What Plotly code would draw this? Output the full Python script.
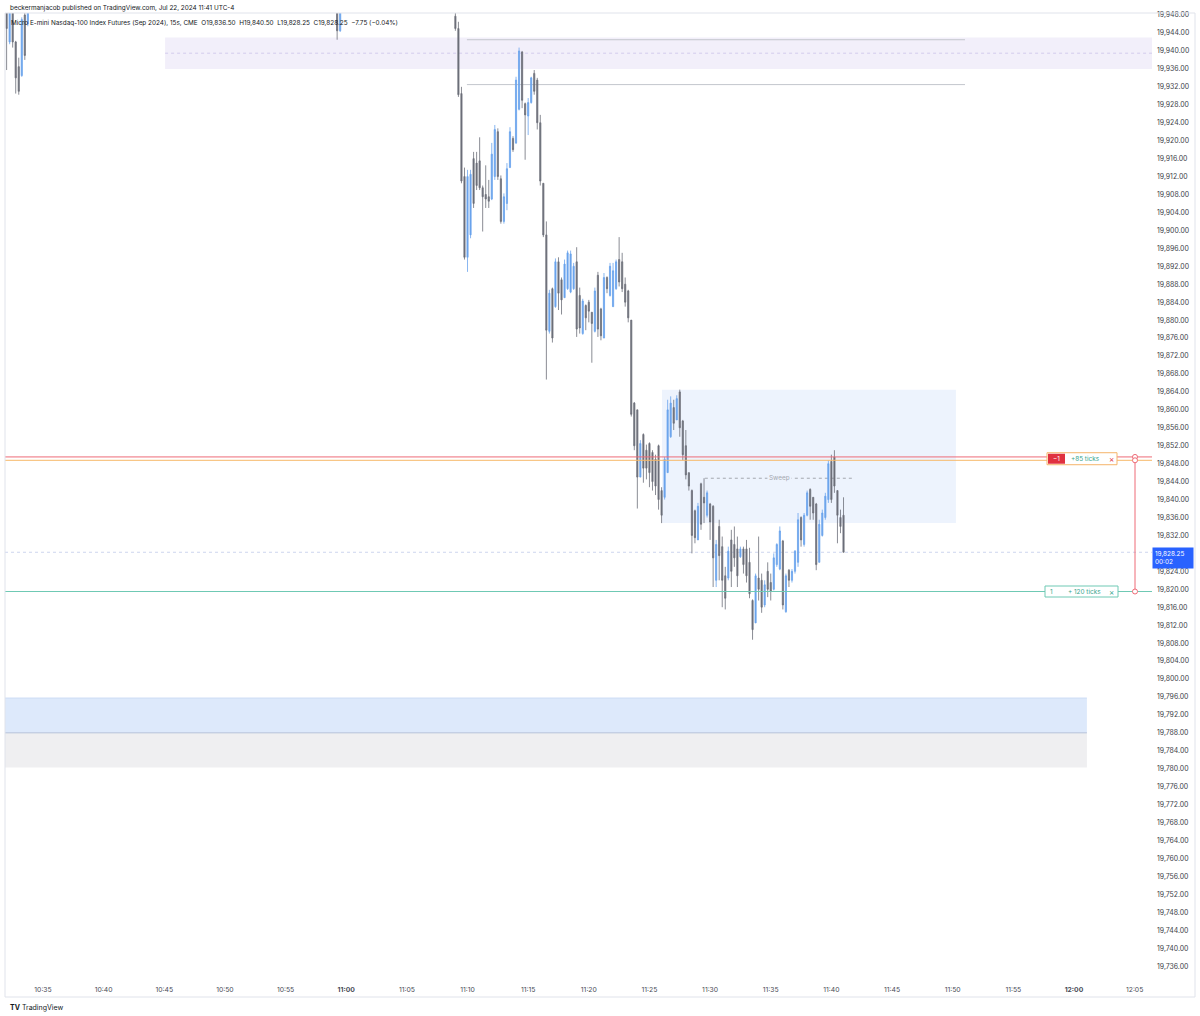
import plotly.graph_objects as go
import pandas as pd

# ---------------- data ----------------
early_times = [
    "2024-07-22 10:32:00", "2024-07-22 10:32:15", "2024-07-22 10:32:30", "2024-07-22 10:32:45",
    "2024-07-22 10:33:00", "2024-07-22 10:33:15", "2024-07-22 10:33:30", "2024-07-22 10:33:45",
    "2024-07-22 10:59:15", "2024-07-22 10:59:30",
]
main_start = "2024-07-22 11:09:00"
main_count = 129

opens = [
    19950.0, 19942.0, 19950.0, 19942.0, 19936.5, 19934.5, 19948.0, 19946.0, 19950.0, 19944.5,
    19947.75, 19945.0, 19930.5, 19912.0, 19894.0, 19899.0, 19916.0, 19915.0, 19915.5, 19909.5,
    19908.0, 19907.5, 19907.0, 19912.0, 19922.0, 19911.5, 19902.0, 19906.0, 19914.0, 19920.5,
    19919.5, 19927.0, 19939.75, 19928.25, 19925.5, 19928.5, 19935.0, 19933.5, 19924.0, 19910.5,
    19899.0, 19877.5, 19887.0, 19883.0, 19893.0, 19889.0, 19885.0, 19887.0, 19886.25, 19887.0,
    19893.0, 19885.5, 19877.0, 19883.25, 19884.0, 19881.75, 19877.5, 19890.0, 19882.5, 19876.0,
    19889.5, 19885.5, 19883.0, 19887.0, 19893.5, 19893.0, 19888.0, 19886.5, 19880.0, 19861.5,
    19860.0, 19845.0, 19854.5, 19851.0, 19852.5, 19850.5, 19849.0, 19852.0, 19842.0, 19840.5,
    19846.0, 19854.0, 19860.5, 19857.75, 19864.0, 19857.5, 19852.0, 19846.0, 19842.0, 19837.5,
    19831.0, 19843.5, 19840.5, 19836.5, 19839.0, 19838.5, 19822.0, 19834.0, 19829.5, 19823.0,
    19822.5, 19831.0, 19830.0, 19829.0, 19827.25, 19829.0, 19829.0, 19826.0, 19817.5, 19812.5,
    19822.5, 19822.0, 19816.5, 19824.0, 19821.5, 19820.0, 19825.5, 19824.5, 19830.75, 19815.0,
    19824.25, 19822.0, 19824.0, 19826.0, 19836.0, 19830.0, 19836.5, 19842.25, 19840.5, 19839.0,
    19826.0, 19832.0, 19836.0, 19840.0, 19848.5, 19849.5, 19842.0, 19836.0, 19836.5,
]
highs = [
    19951.0, 19950.0, 19951.0, 19942.25, 19938.5, 19947.5, 19949.0, 19950.0, 19951.0, 19951.0,
    19948.5, 19946.5, 19932.0, 19914.0, 19913.5, 19913.5, 19917.5, 19917.5, 19920.75, 19910.0,
    19914.5, 19911.25, 19919.5, 19923.5, 19922.75, 19912.25, 19908.25, 19915.0, 19923.0, 19921.0,
    19934.25, 19940.75, 19940.0, 19928.5, 19929.5, 19934.25, 19935.75, 19934.0, 19925.75, 19910.5,
    19902.0, 19886.75, 19887.25, 19893.75, 19894.0, 19889.5, 19893.5, 19895.5, 19895.5, 19892.75,
    19896.25, 19887.25, 19884.75, 19883.5, 19884.5, 19881.75, 19887.25, 19890.75, 19882.75, 19890.5,
    19889.75, 19892.75, 19892.75, 19893.5, 19898.5, 19895.0, 19889.5, 19886.75, 19880.0, 19861.75,
    19860.0, 19853.25, 19854.75, 19852.25, 19852.75, 19851.0, 19850.0, 19852.25, 19842.75, 19849.5,
    19862.25, 19863.0, 19862.25, 19863.25, 19864.5, 19857.75, 19855.5, 19846.0, 19842.25, 19837.75,
    19839.25, 19843.75, 19844.75, 19842.0, 19839.25, 19838.75, 19831.0, 19835.5, 19831.75, 19825.0,
    19829.5, 19833.25, 19834.0, 19831.75, 19829.5, 19829.5, 19831.0, 19829.25, 19817.75, 19823.5,
    19831.75, 19823.5, 19822.0, 19826.0, 19823.5, 19828.0, 19830.25, 19834.0, 19831.0, 19823.5,
    19824.5, 19824.5, 19828.75, 19837.0, 19836.25, 19837.0, 19842.0, 19842.5, 19840.5, 19839.25,
    19835.5, 19837.75, 19841.5, 19848.75, 19850.0, 19851.0, 19842.0, 19837.75, 19840.5,
]
lows = [
    19935.75, 19941.5, 19940.75, 19930.5, 19930.25, 19934.25, 19938.0, 19945.5, 19942.5, 19944.25,
    19944.5, 19929.75, 19910.5, 19893.5, 19890.75, 19898.25, 19905.0, 19909.0, 19909.0, 19899.75,
    19905.0, 19905.0, 19906.75, 19911.25, 19911.25, 19901.5, 19901.5, 19904.5, 19914.0, 19917.5,
    19919.25, 19926.75, 19927.25, 19915.75, 19921.25, 19928.25, 19930.25, 19922.5, 19910.0, 19898.5,
    19866.75, 19877.0, 19875.0, 19882.75, 19882.25, 19881.25, 19885.0, 19886.75, 19886.0, 19886.75,
    19876.25, 19877.0, 19876.75, 19877.75, 19879.5, 19870.5, 19877.25, 19876.25, 19875.5, 19876.0,
    19886.0, 19885.25, 19883.0, 19886.75, 19887.5, 19886.25, 19883.0, 19879.5, 19858.5, 19851.0,
    19838.0, 19845.0, 19843.75, 19844.5, 19842.75, 19842.0, 19841.0, 19837.75, 19834.75, 19840.0,
    19846.0, 19853.75, 19855.5, 19857.75, 19854.0, 19848.75, 19844.5, 19842.0, 19828.0, 19830.25,
    19831.0, 19833.25, 19834.75, 19836.0, 19831.0, 19820.5, 19820.5, 19822.0, 19816.0, 19815.5,
    19822.0, 19820.5, 19825.0, 19820.5, 19827.0, 19823.5, 19821.5, 19818.0, 19808.75, 19812.5,
    19817.5, 19814.75, 19816.0, 19818.25, 19817.5, 19819.75, 19825.0, 19824.25, 19815.5, 19814.75,
    19820.5, 19821.5, 19823.5, 19825.0, 19829.5, 19829.5, 19836.25, 19835.5, 19835.5, 19824.25,
    19826.0, 19831.75, 19835.5, 19839.25, 19839.25, 19841.5, 19830.25, 19832.5, 19828.25,
]
closes = [
    19945.0, 19949.0, 19942.0, 19934.0, 19931.0, 19947.0, 19939.0, 19949.0, 19944.5, 19950.0,
    19945.0, 19930.25, 19911.0, 19894.0, 19912.0, 19912.5, 19906.0, 19910.0, 19909.5, 19907.5,
    19907.0, 19906.5, 19917.0, 19922.5, 19912.0, 19902.0, 19907.5, 19913.75, 19922.0, 19918.0,
    19933.5, 19940.0, 19929.0, 19925.75, 19928.5, 19934.0, 19931.0, 19924.0, 19911.0, 19899.0,
    19877.75, 19886.0, 19876.0, 19893.0, 19886.0, 19884.5, 19892.5, 19895.0, 19894.75, 19892.0,
    19878.0, 19878.25, 19884.25, 19880.5, 19882.0, 19879.25, 19886.5, 19878.0, 19876.5, 19889.5,
    19887.0, 19892.0, 19891.0, 19893.0, 19888.5, 19887.0, 19884.0, 19880.5, 19859.0, 19852.0,
    19845.0, 19852.5, 19847.0, 19847.0, 19846.0, 19844.0, 19843.0, 19840.0, 19836.5, 19849.0,
    19860.0, 19861.5, 19857.0, 19862.5, 19856.0, 19850.0, 19845.5, 19843.0, 19832.0, 19831.5,
    19838.5, 19834.5, 19839.25, 19841.5, 19835.0, 19827.0, 19830.0, 19827.5, 19822.0, 19818.0,
    19828.5, 19824.0, 19827.0, 19823.0, 19829.0, 19825.5, 19823.0, 19819.0, 19811.0, 19823.0,
    19820.0, 19816.0, 19821.0, 19820.0, 19819.5, 19827.0, 19830.0, 19833.0, 19816.5, 19823.0,
    19822.0, 19824.0, 19828.5, 19835.5, 19831.0, 19836.5, 19841.5, 19838.5, 19837.0, 19825.5,
    19834.5, 19837.0, 19840.75, 19848.0, 19840.0, 19843.0, 19836.5, 19834.0, 19828.25,
]

x_tick_times = ["10:35", "10:40", "10:45", "10:50", "10:55", "11:00", "11:05", "11:10", "11:15", "11:20",
                "11:25", "11:30", "11:35", "11:40", "11:45", "11:50", "11:55", "12:00", "12:05"]
bold_ticks = ["11:00", "12:00"]
price_tick_first, price_tick_last, price_tick_step = 19736, 19948, 4

entry_price = 19849.5
alert_price = 19848.75
target_price = 19819.5
last_price = 19828.25
last_label = "19,828.25"
countdown = "00:02"
supply_top, supply_mid, supply_bot = 19943.0, 19939.5, 19936.0
supply_line_hi, supply_line_lo = 19942.5, 19932.5
range_top, range_bot = 19864.5, 19834.75
sweep_price = 19844.75
demand_blue_top, demand_mid, demand_gray_bot = 19795.75, 19788.0, 19780.25

# ---------------- build ----------------
day = "2024-07-22 "
times = early_times + list(pd.date_range(main_start, periods=main_count, freq="15s").strftime("%Y-%m-%d %H:%M:%S"))

UP = "#6aa3ec"
DN = "#6c6f79"
FONT = "Inter, Roboto, sans-serif"
FS = 6.4

fig = go.Figure()
fig.add_trace(go.Candlestick(
    x=times, open=opens, high=highs, low=lows, close=closes,
    increasing=dict(line=dict(color=UP, width=0.8), fillcolor=UP),
    decreasing=dict(line=dict(color=DN, width=0.8), fillcolor=DN),
    whiskerwidth=0, showlegend=False, hoverinfo="skip",
))

x_start = day + "10:31:52"
x_end = day + "12:06:26"


def px(xp):
    return (xp - 5) / 1147


shapes = []
# supply zone (top, lavender)
shapes.append(dict(type="rect", xref="x", yref="y", x0=day + "10:45:04", x1=x_end,
                   y0=supply_bot, y1=supply_top, fillcolor="#f2effa", line=dict(width=0), layer="below"))
shapes.append(dict(type="line", xref="x", yref="y", x0=day + "10:45:04", x1=x_end,
                   y0=supply_mid, y1=supply_mid, line=dict(color="#d3cbec", width=1, dash="dot"), layer="below"))
for yv in (supply_line_hi, supply_line_lo):
    shapes.append(dict(type="line", xref="x", yref="y", x0=day + "11:09:57", x1=day + "11:51:01",
                       y0=yv, y1=yv, line=dict(color="#c3c6cd", width=1), layer="below"))
# range box (middle, light blue)
shapes.append(dict(type="rect", xref="x", yref="y", x0=day + "11:26:02", x1=day + "11:50:16",
                   y0=range_bot, y1=range_top, fillcolor="#edf3fd", line=dict(width=0), layer="below"))
shapes.append(dict(type="line", xref="x", yref="y", x0=day + "11:29:34", x1=day + "11:41:56",
                   y0=sweep_price, y1=sweep_price, line=dict(color="#a5a8b0", width=1, dash="dot"), layer="below"))
# bottom zones
shapes.append(dict(type="rect", xref="x", yref="y", x0=day + "10:30:00", x1=day + "12:01:04",
                   y0=demand_mid, y1=demand_blue_top, fillcolor="#dde9fb",
                   line=dict(width=0), layer="below"))
shapes.append(dict(type="rect", xref="x", yref="y", x0=day + "10:30:00", x1=day + "12:01:04",
                   y0=demand_gray_bot, y1=demand_mid, fillcolor="#efeff1",
                   line=dict(width=0), layer="below"))
shapes.append(dict(type="line", xref="x", yref="y", x0=day + "10:30:00", x1=day + "12:01:04",
                   y0=demand_blue_top, y1=demand_blue_top, line=dict(color="#cddcf5", width=1), layer="below"))
shapes.append(dict(type="line", xref="x", yref="y", x0=day + "10:30:00", x1=day + "12:01:04",
                   y0=demand_mid, y1=demand_mid, line=dict(color="#b4c1da", width=1), layer="below"))
# current price dotted line
shapes.append(dict(type="line", xref="paper", yref="y", x0=0, x1=1, y0=last_price, y1=last_price,
                   line=dict(color="#cdd5ee", width=1, dash="dot"), layer="below"))
# position lines
RED = "#ee6a76"
GREEN = "#6fc9b4"
shapes.append(dict(type="line", xref="paper", yref="y", x0=0, x1=1, y0=entry_price, y1=entry_price,
                   line=dict(color=RED, width=1)))
shapes.append(dict(type="line", xref="paper", yref="y", x0=0, x1=1, y0=alert_price, y1=alert_price,
                   line=dict(color="#f7b868", width=1)))
shapes.append(dict(type="line", xref="paper", yref="y", x0=0, x1=1, y0=target_price, y1=target_price,
                   line=dict(color=GREEN, width=1)))
PX = px(1135)
shapes.append(dict(type="line", xref="paper", yref="y", x0=PX, x1=PX, y0=target_price, y1=entry_price,
                   line=dict(color=RED, width=1)))
for yv in (entry_price, alert_price, target_price):
    shapes.append(dict(type="circle", xref="paper", yref="y", xsizemode="pixel", ysizemode="pixel",
                       xanchor=PX, yanchor=yv, x0=-2.5, x1=2.5, y0=-2.5, y1=2.5,
                       fillcolor="white", line=dict(color=RED, width=1)))

# order label boxes
lab_y = entry_price - 0.4
shapes.append(dict(type="rect", xref="paper", yref="y", x0=px(1047), x1=px(1117),
                   ysizemode="pixel", yanchor=lab_y, y0=-6, y1=6,
                   fillcolor="white", line=dict(color="#f5b46a", width=1)))
shapes.append(dict(type="rect", xref="paper", yref="y", x0=px(1048), x1=px(1065),
                   ysizemode="pixel", yanchor=lab_y, y0=-5, y1=5,
                   fillcolor="#e0313f", line=dict(width=0)))
shapes.append(dict(type="rect", xref="paper", yref="y", x0=px(1045), x1=px(1118),
                   ysizemode="pixel", yanchor=target_price, y0=-5.5, y1=5.5,
                   fillcolor="white", line=dict(color=GREEN, width=1)))

# frame
BORDER = "#e0e3eb"
yb = (980 - 997) / 967
shapes.append(dict(type="line", xref="paper", yref="paper", x0=0, x1=px(1195), y0=1, y1=1,
                   line=dict(color=BORDER, width=1)))
shapes.append(dict(type="line", xref="paper", yref="paper", x0=0, x1=0, y0=yb, y1=1,
                   line=dict(color=BORDER, width=1)))
shapes.append(dict(type="line", xref="paper", yref="paper", x0=0, x1=px(1195), y0=yb, y1=yb,
                   line=dict(color=BORDER, width=1)))
shapes.append(dict(type="line", xref="paper", yref="paper", x0=px(1195), x1=px(1195), y0=yb, y1=1,
                   line=dict(color=BORDER, width=1)))

annotations = []
annotations.append(dict(xref="paper", yref="paper", x=px(8), y=(980 - 8) / 967, xanchor="left", yanchor="middle",
                        text="beckermanjacob published on TradingView.com, Jul 22, 2024 11:41 UTC-4",
                        showarrow=False, font=dict(family=FONT, size=FS, color="#131722")))
annotations.append(dict(xref="paper", yref="paper", x=px(9), y=(980 - 23) / 967, xanchor="left", yanchor="middle",
                        text="Micro E-mini Nasdaq-100 Index Futures (Sep 2024), 15s, CME  O19,836.50  H19,840.50  L19,828.25  C19,828.25  −7.75 (−0.04%)",
                        showarrow=False, font=dict(family=FONT, size=FS, color="#131722")))
annotations.append(dict(xref="paper", yref="paper", x=px(8), y=(980 - 1007) / 967, xanchor="left", yanchor="middle",
                        text="<b>TV</b> TradingView", showarrow=False,
                        font=dict(family=FONT, size=7, color="#131722")))
annotations.append(dict(xref="x", yref="y", x=day + "11:35:45", y=sweep_price, text="Sweep", showarrow=False,
                        bgcolor="#edf3fd", borderpad=1,
                        font=dict(family=FONT, size=FS, color="#a5a8b0")))
annotations.append(dict(xref="paper", yref="y", x=px(1056.5), y=lab_y, text="−1", showarrow=False,
                        xanchor="center", font=dict(family=FONT, size=FS, color="white")))
annotations.append(dict(xref="paper", yref="y", x=px(1069), y=lab_y, text="+85 ticks", showarrow=False,
                        xanchor="left", font=dict(family=FONT, size=FS, color="#3aa58e")))
annotations.append(dict(xref="paper", yref="y", x=px(1111), y=lab_y, text="×", showarrow=False,
                        xanchor="center", font=dict(family=FONT, size=8, color="#e0313f")))
annotations.append(dict(xref="paper", yref="y", x=px(1051), y=target_price, text="1", showarrow=False,
                        xanchor="center", font=dict(family=FONT, size=FS, color="#3aa58e")))
annotations.append(dict(xref="paper", yref="y", x=px(1066), y=target_price, text="+ 120 ticks", showarrow=False,
                        xanchor="left", font=dict(family=FONT, size=FS, color="#3aa58e")))
annotations.append(dict(xref="paper", yref="y", x=px(1111), y=target_price, text="×", showarrow=False,
                        xanchor="center", font=dict(family=FONT, size=8, color="#3aa58e")))
annotations.append(dict(xref="paper", yref="y", x=1.0, y=last_price, xanchor="left", yanchor="top", yshift=5,
                        text=f"{last_label}<br>{countdown}", showarrow=False, align="left",
                        bgcolor="#2962ff", borderpad=2, width=36,
                        font=dict(family=FONT, size=FS, color="white")))

tick_vals = [day + t + ":00" for t in x_tick_times]
tick_text = [f"<b>{t}</b>" if t in bold_ticks else t for t in x_tick_times]
# price ticks; the one hidden under the last-price label is skipped
price_ticks = [v for v in range(price_tick_first, price_tick_last + 1, price_tick_step)
               if abs(v - last_price) > 2]

fig.update_layout(
    width=1200, height=1016,
    margin=dict(l=5, r=48, t=13, b=36),
    paper_bgcolor="white", plot_bgcolor="white",
    boxgap=0.45,
    shapes=shapes, annotations=annotations,
    font=dict(family=FONT, size=FS, color="#131722"),
    xaxis=dict(type="date", range=[x_start, x_end], rangeslider=dict(visible=False),
               showgrid=False, zeroline=False, showline=False, ticks="",
               tickvals=tick_vals, ticktext=tick_text, ticklabelstandoff=4,
               tickfont=dict(family=FONT, size=6.8, color="#4a4d57")),
    yaxis=dict(side="right", range=[19732.9, 19948.46], showgrid=False, zeroline=False, showline=False,
               ticks="", tickvals=price_ticks, tickformat=",.2f", ticklabelstandoff=4,
               tickfont=dict(family=FONT, size=6.9, color="#3b3e47")),
)

fig.write_html("out.html", config={"displayModeBar": False},
               post_script="document.body.style.margin='0';document.body.style.padding='0';")
